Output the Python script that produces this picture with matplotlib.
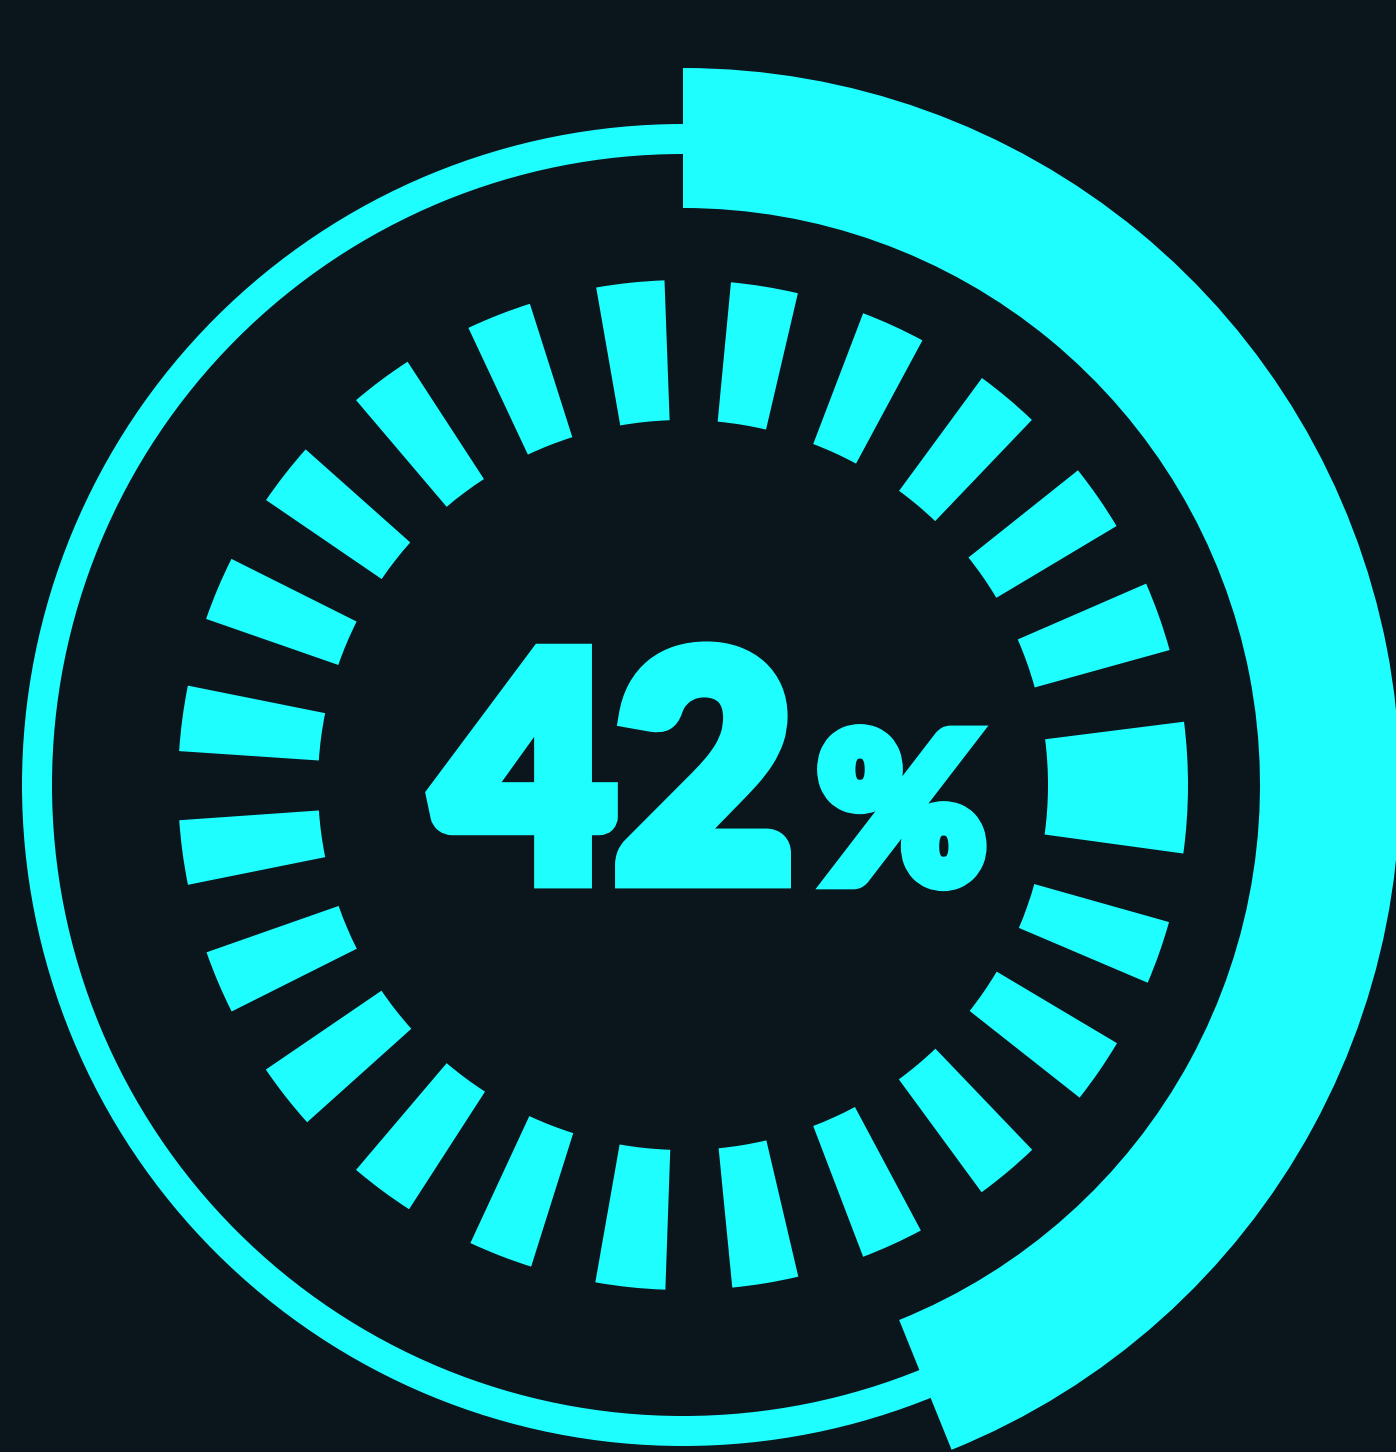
import matplotlib
matplotlib.use("Agg")
import matplotlib.pyplot as plt
from matplotlib.patches import Wedge
import matplotlib.patheffects as pe

# ---- data ----
label_value = "42"
label_unit = "%"
progress_end_deg = 158.0          # clockwise from 12 o'clock, as drawn
segment_centers = [9.3, 24.6, 40.0, 55.3, 70.5, 90.3, 109.4, 124.5, 140.0,
                   155.5, 170.6, 186.0, 201.2, 216.6, 231.9, 247.0, 262.3,
                   277.6, 292.9, 308.0, 323.3, 338.6, 354.0]
segment_widths = [7.7, 7.4, 7.4, 7.7, 8.0, 15.0, 7.3, 7.5, 7.5,
                  7.2, 7.6, 8.0, 7.4, 7.5, 7.6, 7.3, 7.4,
                  7.5, 7.4, 7.3, 7.3, 7.5, 7.8]

BG = "#0b151c"
CYAN = "#1efefe"

W, H, DPI = 1396, 1452, 100
fig = plt.figure(figsize=(W / DPI, H / DPI), dpi=DPI, facecolor=BG)
ax = fig.add_axes([0, 0, 1, 1])
ax.set_facecolor(BG)
cx, cy = 683, 785
ax.set_xlim(-cx, W - cx)
ax.set_ylim(-(H - cy), cy)
ax.set_aspect("equal")
ax.axis("off")


def theta(a):
    return 90.0 - a


# thin outer ring
ax.add_patch(Wedge((0, 0), 661, 0, 360, width=30, facecolor=CYAN, edgecolor="none"))
# thick progress arc
ax.add_patch(Wedge((0, 0), 717, theta(progress_end_deg), theta(0), width=140,
                   facecolor=CYAN, edgecolor="none"))
# inner dashed ring
for c, w in zip(segment_centers, segment_widths):
    ax.add_patch(Wedge((0, 0), 505, theta(c + w / 2), theta(c - w / 2), width=140,
                       facecolor=CYAN, edgecolor="none"))

fam = ["Lato", "DejaVu Sans"]
t1 = ax.text(436 - cx, cy - 878, label_value, ha="left", va="baseline",
             fontsize=222, fontweight="black", family=fam, color=CYAN)
t1.set_path_effects([pe.withStroke(linewidth=15, foreground=CYAN, joinstyle="miter")])
t2 = ax.text(818 - cx, cy - 881, label_unit, ha="left", va="baseline",
             fontsize=146, fontweight="black", family=fam, color=CYAN)
t2.set_path_effects([pe.withStroke(linewidth=12, foreground=CYAN, joinstyle="miter")])

fig.savefig("out.png", dpi=DPI, facecolor=BG)
